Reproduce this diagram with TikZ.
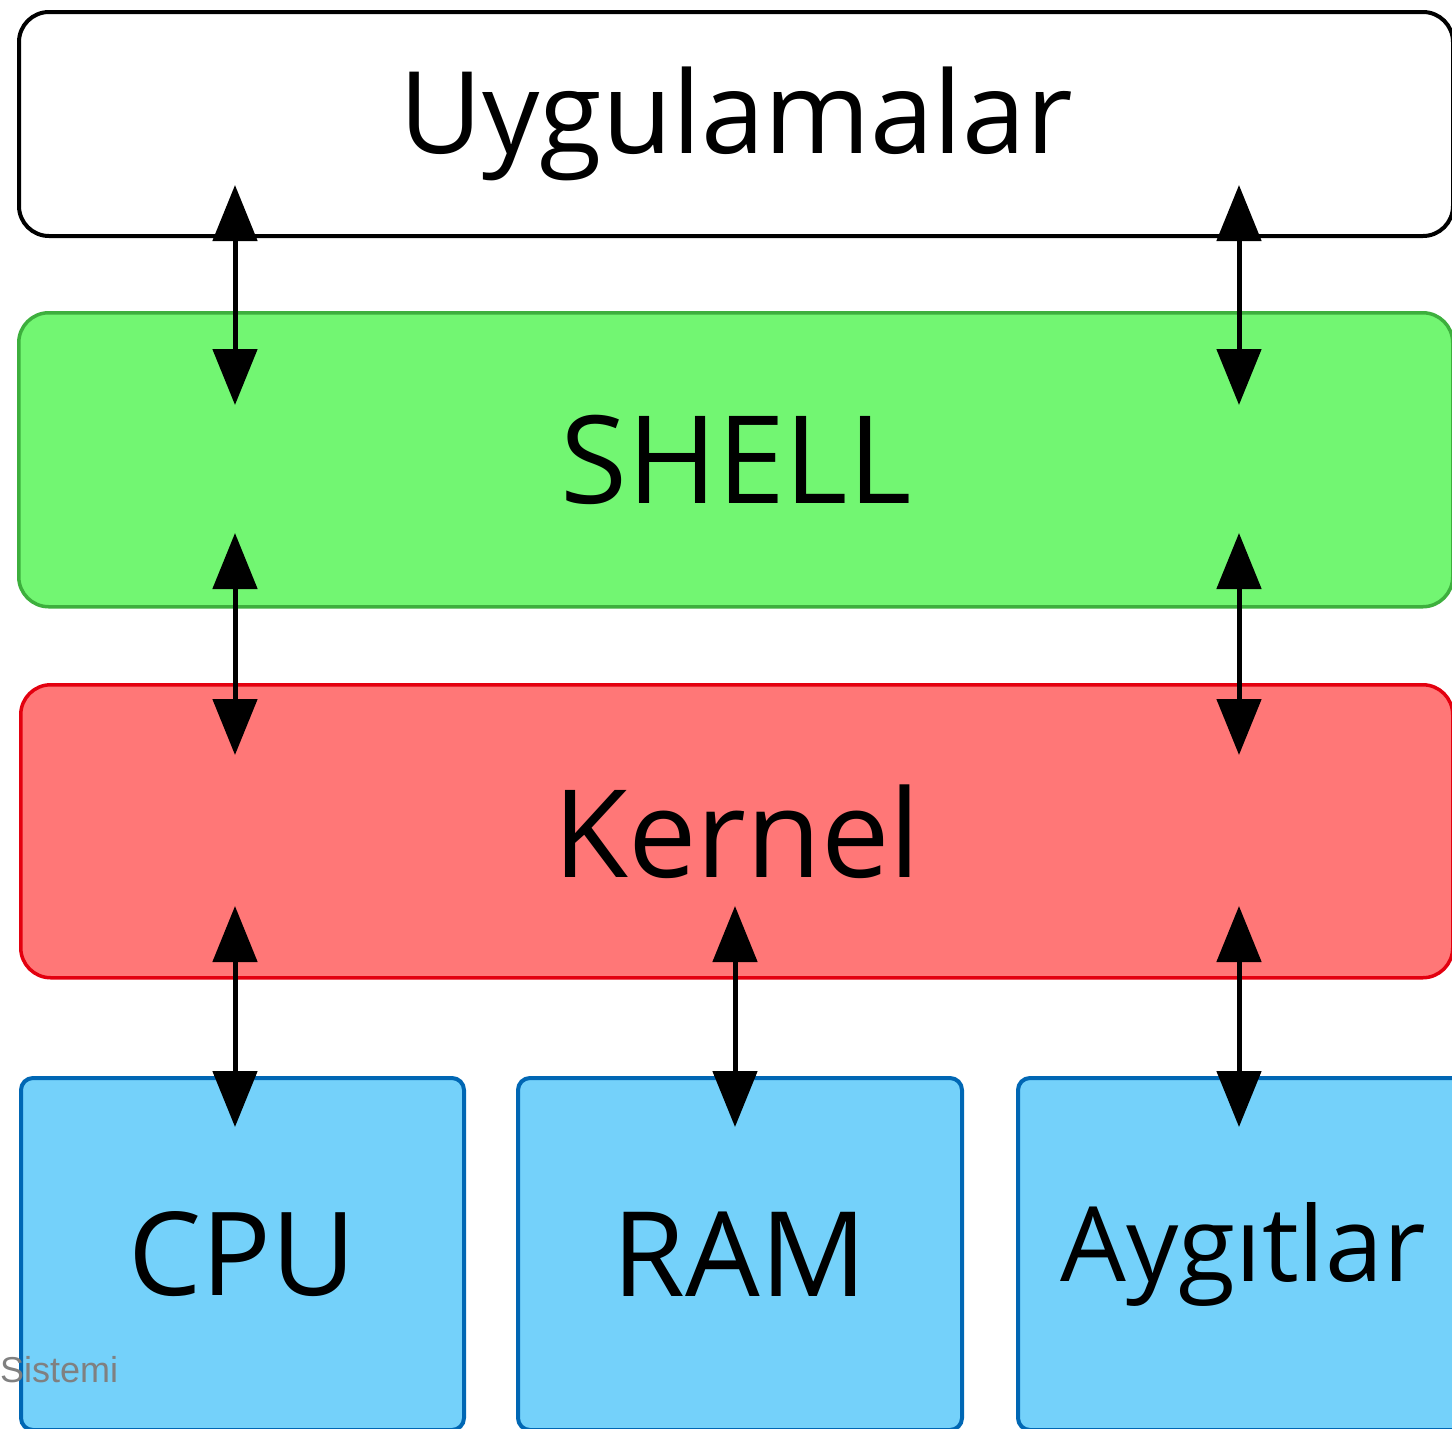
\documentclass[tikz,border=0pt]{standalone}
\usepackage{fontspec}
\setmainfont{Open Sans}
\newfontfamily\graytextfont{Liberation Sans}
\usetikzlibrary{arrows.meta}
\definecolor{shellfill}{HTML}{72F672}
\definecolor{shelldraw}{HTML}{3DAF3D}
\definecolor{kernfill}{HTML}{FF7777}
\definecolor{kerndraw}{HTML}{E3000F}
\definecolor{hwfill}{HTML}{74D1FA}
\definecolor{hwdraw}{HTML}{0067B4}
\definecolor{sisgray}{HTML}{808080}
\tikzset{
  layer/.style={rectangle, rounded corners=30pt, anchor=north west, inner sep=0pt},
  hwbox/.style={rectangle, rounded corners=12pt, anchor=north west, inner sep=0pt,
    fill=hwfill, draw=hwdraw, line width=4pt},
  biarrow/.style={line width=5pt, {Triangle[length=56pt,width=44pt]}-{Triangle[length=56pt,width=44pt]}}
}
\begin{document}
\begin{tikzpicture}[x=1pt,y=-1pt]
\useasboundingbox (0,0) rectangle (1452,1428);
\clip (0,0) rectangle (1452,1428);
% layers
\node[layer, draw=black, line width=4pt, fill=white, minimum width=1434pt, minimum height=224pt,
  font=\fontsize{114}{114}\selectfont] (app) at (17,10) {Uygulamalar};
\node[layer, draw=shelldraw, line width=3.5pt, fill=shellfill, minimum width=1434pt, minimum height=294pt,
  font=\fontsize{122}{122}\selectfont] (shell) at (17,311) {SHELL};
\node[layer, draw=kerndraw, line width=3.5pt, fill=kernfill, minimum width=1432pt, minimum height=293pt,
  font=\fontsize{122}{122}\selectfont] (kern) at (19,683) {Kernel};
% hardware
\node[hwbox, minimum width=443pt, minimum height=352pt, font=\fontsize{116}{116}\selectfont] (cpu) at (19,1076) {CPU};
\node[hwbox, minimum width=444pt, minimum height=352pt, font=\fontsize{118}{118}\selectfont] (ram) at (516,1076) {RAM};
\node[hwbox, minimum width=450pt, minimum height=352pt, font=\fontsize{104}{104}\selectfont] (dev) at (1016,1076) {Aygıtlar};
% label
\node[anchor=base west, inner sep=0pt, text=sisgray, font=\graytextfont\fontsize{36}{36}\selectfont] (sis) at (0,1382) {Sistemi};
% arrow endpoints
\coordinate (a1t) at (235,185); \coordinate (a1b) at (235,405);
\coordinate (b1t) at (1239,185); \coordinate (b1b) at (1239,405);
\coordinate (a2t) at (235,533); \coordinate (a2b) at (235,755);
\coordinate (b2t) at (1239,533); \coordinate (b2b) at (1239,755);
\coordinate (a3t) at (235,906); \coordinate (a3b) at (235,1127);
\coordinate (m3t) at (735,906); \coordinate (m3b) at (735,1127);
\coordinate (b3t) at (1239,906); \coordinate (b3b) at (1239,1127);
\draw[biarrow] (a1t) -- (a1b);
\draw[biarrow] (b1t) -- (b1b);
\draw[biarrow] (a2t) -- (a2b);
\draw[biarrow] (b2t) -- (b2b);
\draw[biarrow] (a3t) -- (a3b);
\draw[biarrow] (m3t) -- (m3b);
\draw[biarrow] (b3t) -- (b3b);
\end{tikzpicture}
\end{document}
